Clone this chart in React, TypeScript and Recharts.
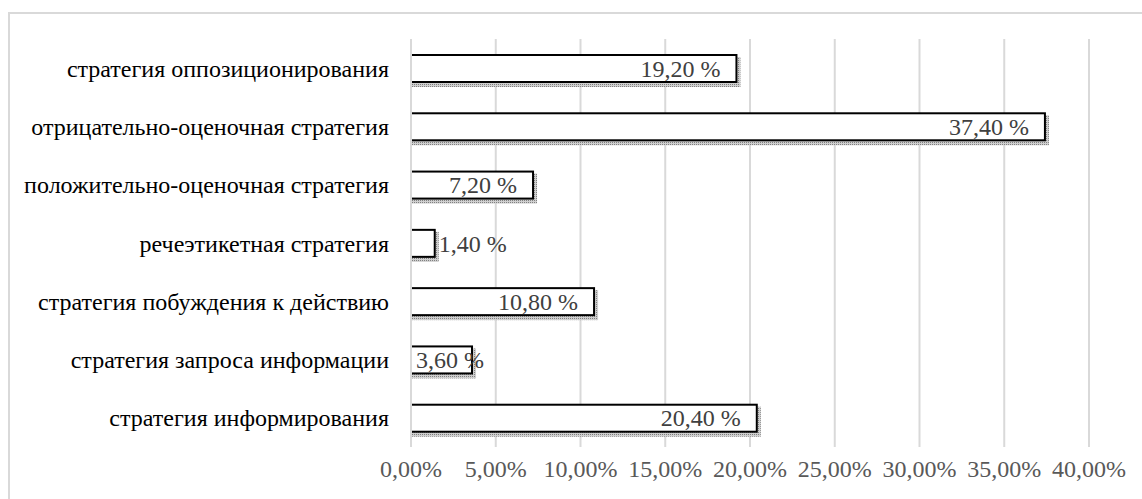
import React from 'react';
import {Bar, BarChart, CartesianGrid, XAxis, YAxis} from 'recharts';

const categories = [
    'стратегия оппозиционирования',
    'отрицательно-оценочная стратегия',
    'положительно-оценочная стратегия',
    'речеэтикетная стратегия',
    'стратегия побуждения к действию',
    'стратегия запроса информации',
    'стратегия информирования',
];
const shares = [19.2, 37.4, 7.2, 1.4, 10.8, 3.6, 20.4];
const xTicks = [0, 5, 10, 15, 20, 25, 30, 35, 40];

const data = categories.map((name, i) => ({name, value: shares[i]}));

const FONT = '"Liberation Serif", "Times New Roman", serif';
const LABEL_SIZE = 24;

const fmtTick = (v: number) => v.toFixed(2).replace('.', ',') + '%';
const fmtLabel = (v: number) => v.toFixed(2).replace('.', ',') + ' %';

// rough width of a label set in Times
function textWidth(s: string, size: number) {
    let w = 0;
    for (const ch of s) {
        if (ch === '%') w += 0.833;
        else if (ch === ',' || ch === ' ') w += 0.25;
        else w += 0.5;
    }
    return w * size;
}

function ShadowBar(props: any) {
    const {x, y, width, height} = props;
    return (
        <g>
            <defs>
                <pattern id="dots" width="2" height="2" patternUnits="userSpaceOnUse">
                    <rect width="2" height="2" fill="#cfcfcf" />
                    <rect width="1" height="1" fill="#808080" />
                </pattern>
            </defs>
            <rect x={x + 1} y={y + 2} width={width + 3} height={height + 3} fill="url(#dots)" />
            <rect x={x} y={y} width={width} height={height} fill="#fff" stroke="#000" strokeWidth={2} />
        </g>
    );
}

function ValueLabel(props: any) {
    const {x, y, width, height, value} = props;
    const txt = fmtLabel(value);
    const w = textWidth(txt, LABEL_SIZE);
    let start = x + width - 16 - w;
    if (width < 30) start = x + width + 4;
    else if (start < x + 5) start = x + 5;
    return (
        <text x={start} y={y + height / 2 + LABEL_SIZE * 0.34} fill="#404040"
              fontFamily={FONT} fontSize={LABEL_SIZE} textAnchor="start">
            {txt}
        </text>
    );
}

export default function App() {
    return (
        <div style={{position: 'absolute', left: 0, top: 0, width: 1142, height: 499, overflow: 'hidden', background: '#fff'}}>
            <div style={{position: 'absolute', left: 8, top: 12, width: 1200, height: 600,
                borderTop: '2px solid #d9d9d9', borderLeft: '2px solid #d9d9d9'}} />
            <div style={{position: 'absolute', left: 0, top: 0}}>
                <BarChart
                    width={1142}
                    height={499}
                    data={data}
                    layout="vertical"
                    margin={{top: 39, right: 53, left: 0, bottom: 22}}
                    barSize={27}
                >
                    <CartesianGrid horizontal={false} stroke="#d9d9d9" strokeWidth={2} />
                    <XAxis
                        type="number"
                        domain={[0, 40]}
                        ticks={xTicks}
                        tickFormatter={fmtTick}
                        axisLine={false}
                        tickLine={false}
                        tickSize={0}
                        tickMargin={13}
                        height={30}
                        tick={{fill: '#595959', fontFamily: FONT, fontSize: 24}}
                    />
                    <YAxis
                        type="category"
                        dataKey="name"
                        width={411}
                        axisLine={{stroke: '#d9d9d9', strokeWidth: 2}}
                        tickLine={false}
                        tickSize={0}
                        tickMargin={22}
                        tick={{fill: '#000', fontFamily: FONT, fontSize: 24}}
                    />
                    <Bar dataKey="value" shape={ShadowBar} label={ValueLabel} isAnimationActive={false} />
                </BarChart>
            </div>
        </div>
    );
}
